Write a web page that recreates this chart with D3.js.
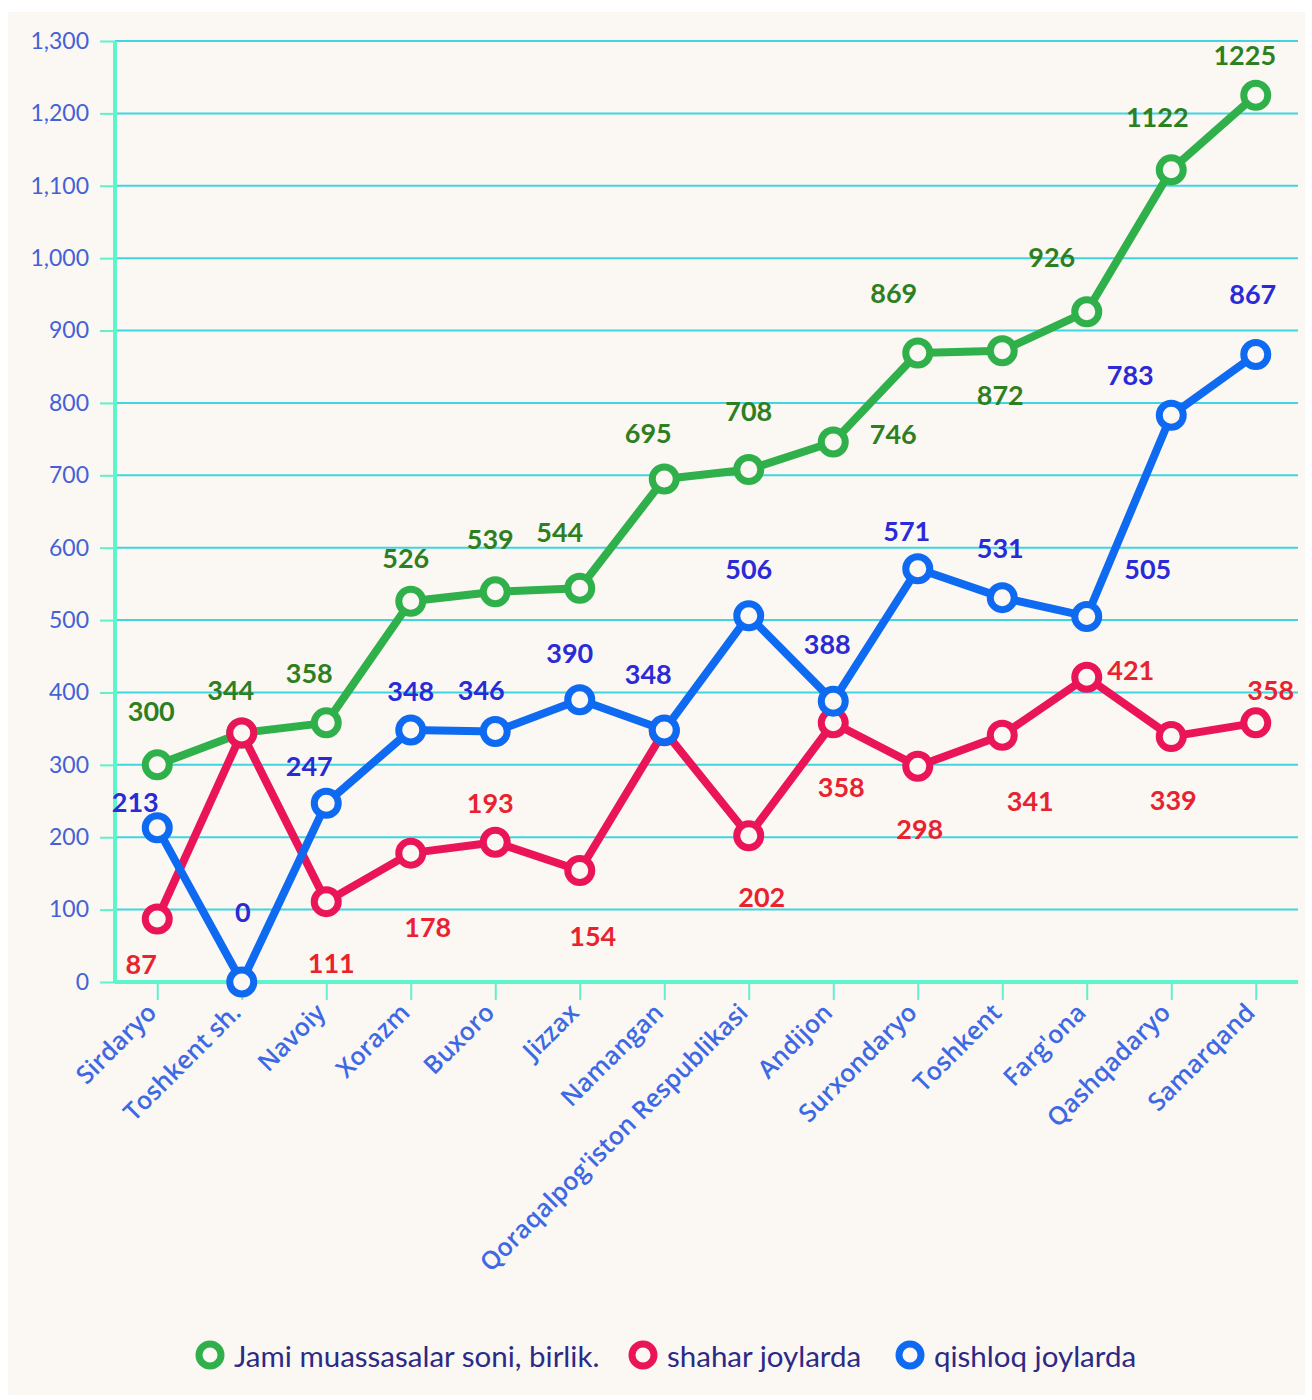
<!DOCTYPE html>
<html>
<head>
<meta charset="utf-8">
<script src="https://cdn.jsdelivr.net/npm/d3@7"></script>
<style>
  body { margin: 0; background: #fff; }
  svg { display: block; }
</style>
</head>
<body>
<svg id="chart" width="1312" height="1400"></svg>
<script>
const regions = ["Sirdaryo", "Toshkent sh.", "Navoiy", "Xorazm", "Buxoro", "Jizzax", "Namangan",
  "Qoraqalpog'iston Respublikasi", "Andijon", "Surxondaryo", "Toshkent", "Farg'ona", "Qashqadaryo", "Samarqand"];
const jami = [300, 344, 358, 526, 539, 544, 695, 708, 746, 869, 872, 926, 1122, 1225];
const shahar = [87, 344, 111, 178, 193, 154, 347, 202, 358, 298, 341, 421, 339, 358];
const qishloq = [213, 0, 247, 348, 346, 390, 348, 506, 388, 571, 531, 505, 783, 867];
const yTicks = [0, 100, 200, 300, 400, 500, 600, 700, 800, 900, 1000, 1100, 1200, 1300];
const seriesNames = ["Jami muassasalar soni, birlik.", "shahar joylarda", "qishloq joylarda"];

// label offsets (dx, dy) relative to each point; null = label not shown
const jamiLabelShift = [[-6,-54],[-11,-43],[-17,-50],[-5,-44],[-5,-53],[-20,-57],[-16,-46],[0,-59],[60,-9],[-24,-60],[-2,44],[-35,-55],[-14,-53],[-11,-41]];
const shaharLabelShift = [[-16,44],null,[5,61],[17,73],[-5,-40],[13,65],null,[13,61],[8,64],[2,62],[28,65],[44,-8],[2,63],[15,-33]];
const qishloqLabelShift = [[-22,-26],[1,-71],[-17,-38],[0,-40],[-14,-42],[-10,-47],[-16,-57],[0,-47],[-6,-58],[-11,-38],[-2,-50],[61,-48],[-41,-41],[-3,-61]];

const svg = d3.select("#chart");
svg.append("rect").attr("x", 8).attr("y", 12).attr("width", 1297).attr("height", 1383).attr("fill", "#fbf7f3");

const plotLeft = 115, plotRight = 1298, plotTop = 41, plotBottom = 982;
const x = d3.scalePoint().domain(regions).range([plotLeft, plotRight]).padding(0.5);
const y = d3.scaleLinear().domain([0, 1300]).range([plotBottom, plotTop]);

// grid
svg.append("g")
  .selectAll("line")
  .data(yTicks.filter(d => d > 0))
  .join("line")
  .attr("x1", plotLeft).attr("x2", plotRight)
  .attr("y1", d => y(d)).attr("y2", d => y(d))
  .attr("stroke", "#3fd6e0").attr("stroke-width", 2);

// y axis
const yAxis = svg.append("g")
  .attr("transform", `translate(${plotLeft},0)`)
  .call(d3.axisLeft(y).tickValues(yTicks).tickSize(15).tickPadding(11).tickFormat(d3.format(",")));
yAxis.select(".domain").remove();
yAxis.selectAll(".tick line").attr("stroke", "#62f0cc").attr("stroke-width", 2);
yAxis.selectAll(".tick text")
  .attr("fill", "#4462d6")
  .attr("font-size", null).attr("font-family", null)
  .style("font", "23px Lato");
svg.append("line")
  .attr("x1", plotLeft).attr("x2", plotLeft).attr("y1", plotTop).attr("y2", plotBottom)
  .attr("stroke", "#5ff5cc").attr("stroke-width", 4);

// x axis
const xAxis = svg.append("g")
  .attr("transform", `translate(0,${plotBottom})`)
  .attr("font-size", null).attr("font-family", null)
  .call(d3.axisBottom(x).tickSize(18).tickSizeOuter(0).tickPadding(6));
xAxis.select(".domain").attr("stroke", "#5ff5cc").attr("stroke-width", 4)
  .attr("d", `M${plotLeft},0H${plotRight}`);
xAxis.selectAll(".tick line").attr("stroke", "#62f0cc").attr("stroke-width", 2);
xAxis.selectAll(".tick text")
  .attr("fill", "#3d69e4")
  .style("font-family", "'Open Sans'")
  .style("font-weight", "600")
  .style("font-size", "25px")
  .attr("text-anchor", "end")
  .attr("dy", "0.35em")
  .attr("transform", "translate(-6,26) rotate(-45)")
  .attr("y", 0).attr("x", 0);

const series = [
  { name: seriesNames[0], values: jami, shift: jamiLabelShift, color: "#2fb04a", label: "#2e7f22" },
  { name: seriesNames[1], values: shahar, shift: shaharLabelShift, color: "#ea1559", label: "#e8232f" },
  { name: seriesNames[2], values: qishloq, shift: qishloqLabelShift, color: "#0f6af2", label: "#2a2ad6" }
];

const line = d3.line().x((d, i) => x(regions[i])).y(d => y(d));

series.forEach(s => {
  const g = svg.append("g");
  g.append("path")
    .attr("d", line(s.values))
    .attr("fill", "none")
    .attr("stroke", s.color)
    .attr("stroke-width", 8)
    .attr("stroke-linejoin", "round");
  g.selectAll("circle")
    .data(s.values)
    .join("circle")
    .attr("cx", (d, i) => x(regions[i]))
    .attr("cy", d => y(d))
    .attr("r", 12)
    .attr("fill", "#fbf7f3")
    .attr("stroke", s.color)
    .attr("stroke-width", 7);
});

series.forEach(s => {
  svg.append("g")
    .selectAll("text")
    .data(s.values.map((v, i) => ({ v, i, sh: s.shift[i] })).filter(d => d.sh))
    .join("text")
    .attr("x", d => x(regions[d.i]) + d.sh[0])
    .attr("y", d => y(d.v) + d.sh[1])
    .attr("text-anchor", "middle")
    .attr("dominant-baseline", "central")
    .attr("fill", s.label)
    .style("font", "bold 27px Lato")
    .text(d => d.v);
});

// legend
const legendX = [210, 643, 910];
const legend = svg.append("g").attr("transform", "translate(0,1355)");
series.forEach((s, i) => {
  legend.append("circle")
    .attr("cx", legendX[i]).attr("cy", 0).attr("r", 11)
    .attr("fill", "#fbf7f3").attr("stroke", s.color).attr("stroke-width", 7);
  legend.append("text")
    .attr("x", legendX[i] + 24).attr("y", 0)
    .attr("dominant-baseline", "central")
    .attr("fill", "#2b2a86")
    .style("font", "29.5px Lato")
    .text(s.name);
});
</script>
</body>
</html>
